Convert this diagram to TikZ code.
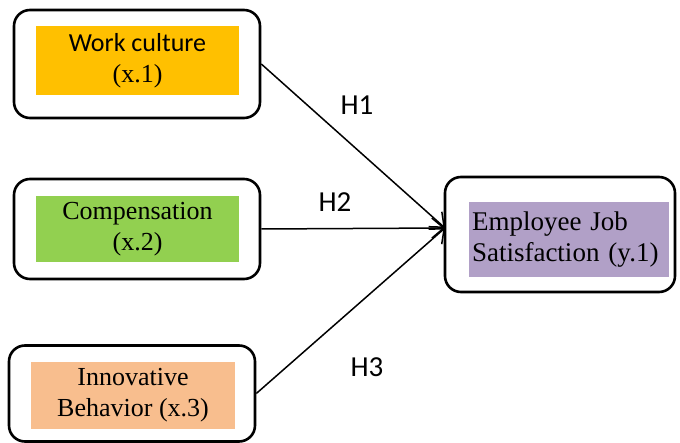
\documentclass[tikz,border=0pt]{standalone}
\usepackage{fontspec}
\setmainfont{Liberation Serif}
\newfontfamily\carlito{Carlito}
\usetikzlibrary{arrows.meta}
\definecolor{cOrange}{RGB}{255,192,0}
\definecolor{cGreen}{RGB}{146,208,80}
\definecolor{cPeach}{RGB}{248,190,142}
\definecolor{cPurple}{RGB}{177,160,199}
\tikzset{
  outerbox/.style={draw=black, line width=2.6bp, rounded corners=16bp, fill=white, inner sep=0pt},
  fillbox/.style={inner sep=0pt, align=center, font=\fontsize{26bp}{31bp}\selectfont},
  link/.style={line width=1.5bp, -{Straight Barb[length=12bp,width=20bp,line width=1.5bp]}},
  hlab/.style={font=\carlito\fontsize{29bp}{31bp}\selectfont, inner sep=0pt}
}
\begin{document}
\begin{tikzpicture}[x=1bp,y=-1bp]
\useasboundingbox (0,0) rectangle (680,443);
% outer boxes
\node[outerbox, minimum width=246bp, minimum height=108bp] (o1) at (137,64) {};
\node[outerbox, minimum width=246bp, minimum height=100bp] (o2) at (137,229) {};
\node[outerbox, minimum width=246bp, minimum height=96bp] (o3) at (132,393.5) {};
\node[outerbox, minimum width=230bp, minimum height=115bp] (o4) at (560,234.5) {};
% filled inner boxes
\node[fillbox, fill=cOrange, minimum width=203bp, minimum height=69bp] (f1) at (137.5,61)
  {{\carlito Work culture}\\(x.1)};
\node[fillbox, fill=cGreen, minimum width=203bp, minimum height=66bp] (f2) at (137.5,229)
  {Compensation\\(x.2)};
\node[fillbox, fill=cPeach, minimum width=204bp, minimum height=67bp] (f3) at (133,395.5)
  {Innovative\\Behavior (x.3)};
\node[fillbox, fill=cPurple, minimum width=200bp, minimum height=75bp, text width=194bp, align=left,
  font=\fontsize{27bp}{31bp}\selectfont] (f4) at (569,239.5)
  {Employee Job\\Satisfaction (y.1)};
% connectors
\coordinate (tip) at (445,228);
\draw[link] (o1.east) -- (tip);
\draw[link] (o2.east) -- (tip);
\draw[link] (o3.east) -- (tip);
% labels
\node[hlab] (h1) at (357,105) {H1};
\node[hlab] (h2) at (335,202) {H2};
\node[hlab] (h3) at (367,367) {H3};
\end{tikzpicture}
\end{document}
